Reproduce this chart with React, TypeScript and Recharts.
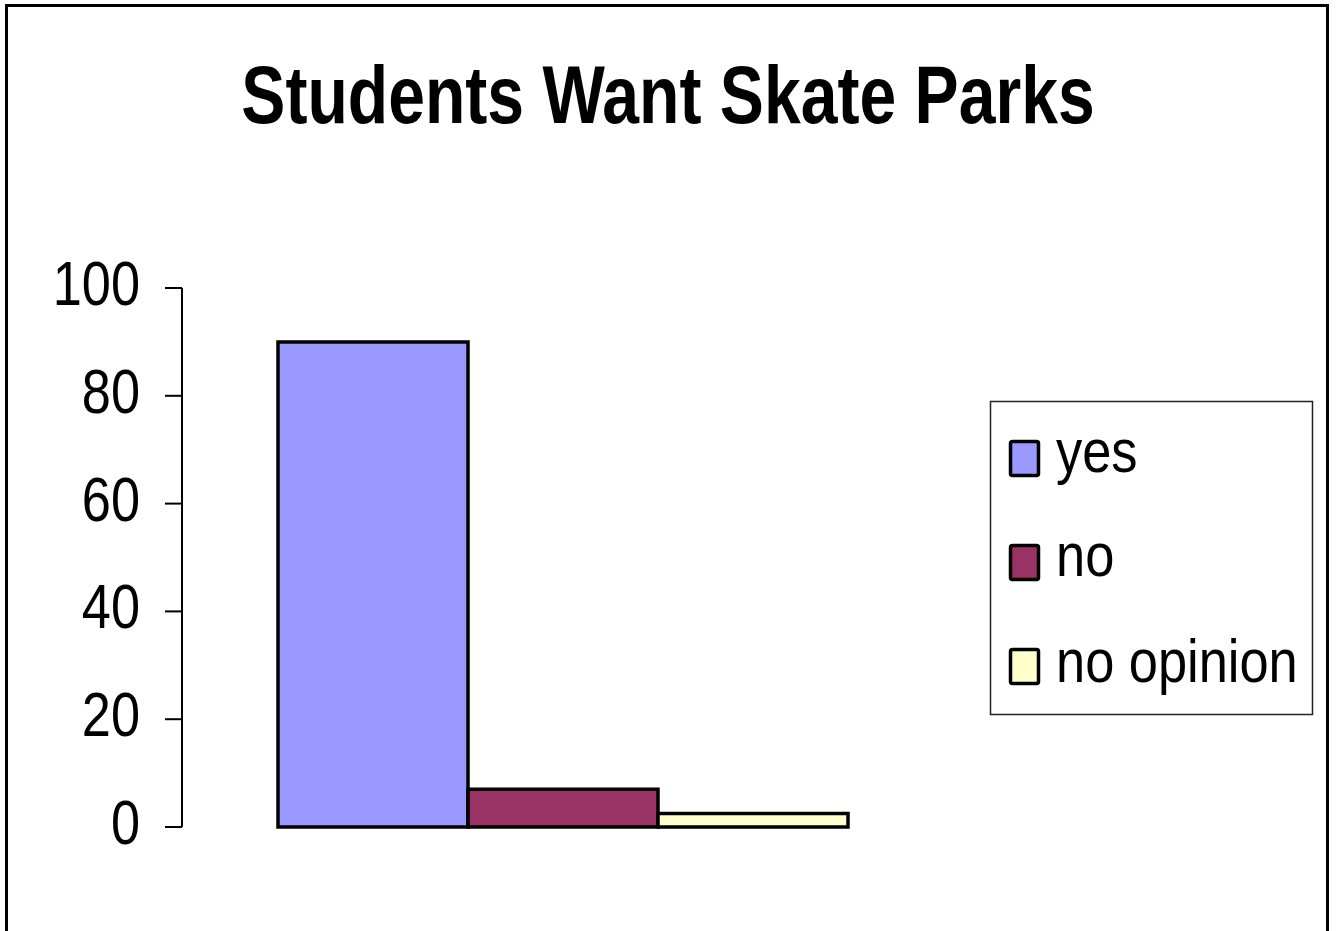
import { BarChart, Bar, XAxis, YAxis } from "recharts";

const categories = ["Students"];
const seriesNames = ["yes", "no", "no opinion"];
const seriesKeys = ["yes", "no", "noOpinion"];
const seriesColors = ["#9999FF", "#993366", "#FFFFCC"];
const yesValues = [90];
const noValues = [7];
const noOpinionValues = [2.5];
const yTicks = [0, 20, 40, 60, 80, 100];

const data = categories.map((c, i) => ({
  name: c,
  yes: yesValues[i],
  no: noValues[i],
  noOpinion: noOpinionValues[i],
}));

// no narrow font installed, so squeeze Liberation Sans horizontally
const FONT = "'Liberation Sans', Arial, sans-serif";
const SQUEEZE = 0.83;

function YTick(props: any) {
  const { x, y, payload } = props;
  return (
    <g transform={`translate(${x},${y + 17}) scale(${SQUEEZE},1)`}>
      <text x={0} y={0} textAnchor="end" fill="#000" fontSize={63} fontFamily={FONT}>
        {payload.value}
      </text>
    </g>
  );
}

function LegendBox() {
  return (
    <svg width={325} height={316} style={{ position: "absolute", left: 989, top: 400 }}>
      <rect x={1.5} y={1.5} width={322} height={313} fill="#fff" stroke="#222" strokeWidth={1.5} />
      {seriesNames.map((n, i) => (
        <g key={n}>
          <rect
            x={21.5}
            y={41.5 + i * 104}
            width={28}
            height={34}
            rx={2}
            fill={seriesColors[i]}
            stroke="#000"
            strokeWidth={3.5}
          />
          <g transform={`translate(67,${72 + i * 104 + (i === 2 ? 2 : 0)}) scale(0.845,1)`}>
            <text x={0} y={0} fontSize={62} fontFamily={FONT} fill="#000">
              {n}
            </text>
          </g>
        </g>
      ))}
    </svg>
  );
}

export default function App() {
  return (
    <div style={{ position: "absolute", left: 0, top: 0, width: 1336, height: 931, overflow: "hidden", background: "#fff" }}>
      <div
        style={{
          position: "absolute",
          left: 5,
          top: 4,
          width: 1318,
          height: 940,
          borderLeft: "3px solid #000",
          borderTop: "3px solid #000",
          borderRight: "3px solid #000",
        }}
      />
      <div
        style={{
          position: "absolute",
          left: 0,
          top: 50,
          width: 1336,
          textAlign: "center",
          fontFamily: FONT,
          fontWeight: "bold",
          fontSize: 82,
          lineHeight: "90px",
          color: "#000",
          transform: `scaleX(0.806)`,
          transformOrigin: "668px 0",
        }}
      >
        Students Want Skate Parks
      </div>
      <div style={{ position: "absolute", left: 0, top: 0 }}>
        <BarChart
          width={1336}
          height={931}
          data={data}
          margin={{ top: 288, right: 392, bottom: 104, left: 50 }}
          barGap={0}
        >
          <XAxis dataKey="name" hide />
          <YAxis
            width={132}
            domain={[0, 100]}
            ticks={yTicks}
            interval={0}
            tickSize={17}
            tickMargin={25}
            axisLine={{ stroke: "#000", strokeWidth: 2 }}
            tickLine={{ stroke: "#000", strokeWidth: 2 }}
            tick={<YTick />}
          />
          {seriesKeys.map((k, i) => (
            <Bar
              key={k}
              dataKey={k}
              name={seriesNames[i]}
              fill={seriesColors[i]}
              stroke="#000"
              strokeWidth={3.5}
              barSize={190}
              isAnimationActive={false}
            />
          ))}
        </BarChart>
      </div>
      <LegendBox />
    </div>
  );
}
